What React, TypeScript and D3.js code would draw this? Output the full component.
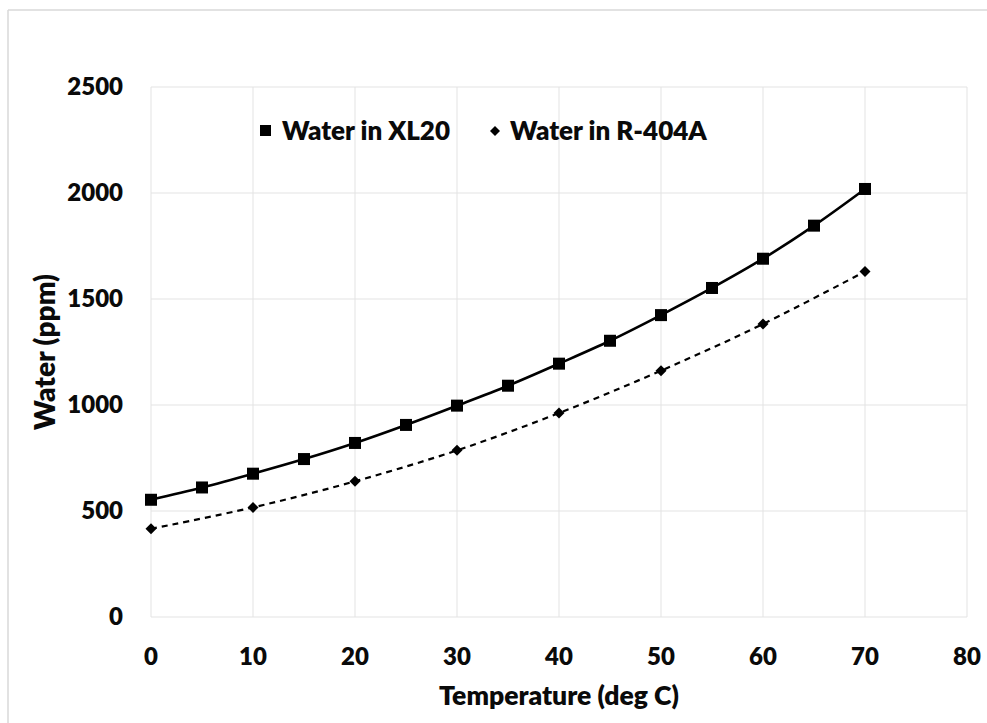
import * as d3 from 'd3'

const xl20Temps = [0, 5, 10, 15, 20, 25, 30, 35, 40, 45, 50, 55, 60, 65, 70]
const xl20Water = [553, 611, 676, 745, 821, 906, 997, 1091, 1195, 1303, 1424, 1552, 1690, 1846, 2019]

const r404aTemps = [0, 10, 20, 30, 40, 50, 60, 70]
const r404aWater = [416, 517, 640, 786, 962, 1162, 1382, 1630]

const xTicks = [0, 10, 20, 30, 40, 50, 60, 70, 80]
const yTicks = [0, 500, 1000, 1500, 2000, 2500]

const W = 987
const H = 723
const margin = { top: 87, right: 20, bottom: 106, left: 151 }
const FONT = 'Lato, "Open Sans", sans-serif'

export default function App() {
  const innerW = 967 - margin.left
  const innerH = 617 - margin.top

  const x = d3.scaleLinear().domain([0, 80]).range([0, innerW])
  const y = d3.scaleLinear().domain([0, 2500]).range([innerH, 0])

  const line = d3
    .line<[number, number]>()
    .x((d) => x(d[0]))
    .y((d) => y(d[1]))
    .curve(d3.curveCatmullRom.alpha(0.5))

  const xlPts = xl20Temps.map((t, i) => [t, xl20Water[i]] as [number, number])
  const rPts = r404aTemps.map((t, i) => [t, r404aWater[i]] as [number, number])

  const diamond = (cx: number, cy: number, r: number) =>
    `M${cx},${cy - r}L${cx + r},${cy}L${cx},${cy + r}L${cx - r},${cy}Z`

  return (
    <div style={{ position: 'absolute', left: 0, top: 0 }}>
      <svg width={W} height={H} style={{ display: 'block', background: '#fff' }}>
        {/* outer chart frame */}
        <line x1={8} x2={W} y1={10} y2={10} stroke="#d9d9d9" strokeWidth={1.5} />
        <line x1={8} x2={8} y1={10} y2={H} stroke="#d9d9d9" strokeWidth={1.5} />

        <g transform={`translate(${margin.left},${margin.top})`}>
          {/* grid */}
          <g stroke="#e3e3e3" strokeWidth={1}>
            {yTicks.map((t) => (
              <line key={'gy' + t} x1={0} x2={innerW} y1={y(t)} y2={y(t)} />
            ))}
            {xTicks.map((t) => (
              <line key={'gx' + t} x1={x(t)} x2={x(t)} y1={0} y2={innerH} />
            ))}
          </g>

          {/* y tick labels */}
          <g fontFamily={FONT} fontWeight={800} fontSize={24} fill="#0a0a0a" textAnchor="end">
            {yTicks.map((t) => (
              <text key={'ly' + t} x={-28} y={y(t)} dy="0.35em">
                {t}
              </text>
            ))}
          </g>

          {/* x tick labels */}
          <g fontFamily={FONT} fontWeight={800} fontSize={24} fill="#0a0a0a" textAnchor="middle">
            {xTicks.map((t) => (
              <text key={'lx' + t} x={x(t)} y={innerH + 40} dy="0.35em">
                {t}
              </text>
            ))}
          </g>

          {/* series */}
          <path d={line(xlPts) ?? ''} fill="none" stroke="#000" strokeWidth={2.6} />
          <path
            d={line(rPts) ?? ''}
            fill="none"
            stroke="#000"
            strokeWidth={2.2}
            strokeDasharray="6,5"
          />
          {xlPts.map((d) => (
            <rect key={'s' + d[0]} x={x(d[0]) - 6} y={y(d[1]) - 6} width={12} height={12} fill="#000" />
          ))}
          {rPts.map((d) => (
            <path key={'d' + d[0]} d={diamond(x(d[0]), y(d[1]), 5.5)} fill="#000" />
          ))}
        </g>

        {/* legend */}
        <g fontFamily={FONT} fontWeight={800} fontSize={26} fill="#0a0a0a">
          <rect x={260} y={125} width={11} height={11} fill="#000" />
          <text x={282} y={131} dy="0.35em">
            Water in XL20
          </text>
          <path d={diamond(495, 131, 5)} fill="#000" />
          <text x={510} y={131} dy="0.35em">
            Water in R-404A
          </text>
        </g>

        {/* axis titles */}
        <text
          x={(151 + 967) / 2}
          y={696}
          dy="0.35em"
          textAnchor="middle"
          fontFamily={FONT}
          fontWeight={800}
          fontSize={26.5}
          fill="#0a0a0a"
        >
          Temperature (deg C)
        </text>
        <text
          transform={`translate(45,${(87 + 617) / 2}) rotate(-90)`}
          dy="0.35em"
          textAnchor="middle"
          fontFamily={FONT}
          fontWeight={800}
          fontSize={28}
          fill="#0a0a0a"
        >
          Water (ppm)
        </text>
      </svg>
    </div>
  )
}
